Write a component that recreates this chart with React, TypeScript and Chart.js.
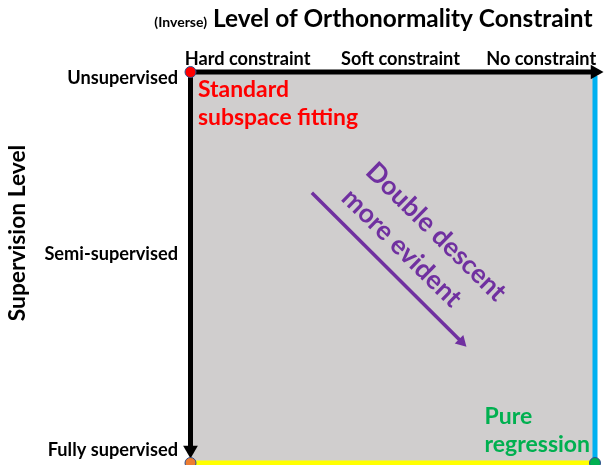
import React, { useEffect, useRef } from "react";
import { Chart, registerables } from "chart.js";
Chart.register(...registerables);

// ---- data ----
const xTitleSmall = "(Inverse)";
const xTitleMain = "Level of Orthonormality Constraint";
const yTitle = "Supervision Level";
const xTickLabels = ["Hard constraint", "Soft constraint", "No constraint"];
const xTickValues = [0.141, 0.519, 0.867];
const yTickLabels = ["Unsupervised", "Semi-supervised", "Fully supervised"];
const yTickValues = [0.031, 0.48, 0.982];

const topAxisLine = [{ x: 0, y: 0 }, { x: 1, y: 0 }];
const leftAxisLine = [{ x: 0, y: 0 }, { x: 0, y: 0.967 }];
const rightEdge = [{ x: 1, y: 0.01 }, { x: 1, y: 1 }];
const bottomEdge = [{ x: 0, y: 1 }, { x: 1, y: 1 }];
const trendLine = [{ x: 0.3, y: 0.309 }, { x: 0.67, y: 0.69 }];
const cornerPoints = [{ x: 0, y: 0 }, { x: 0, y: 1 }, { x: 1, y: 1 }];
const cornerColors = ["#FF0000", "#ED7D31", "#00B050"];

const redLabel = ["Standard", "subspace fitting"];
const redLabelPos = [{ x: 0.0185, y: 0.065 }, { x: 0.0185, y: 0.1355 }];
const greenLabel = ["Pure", "regression"];
const greenLabelPos = [{ x: 0.727, y: 0.899 }, { x: 0.727, y: 0.971 }];
const purpleLabel = ["Double descent", "more evident"];
const purpleLabelPos = [{ x: 0.607, y: 0.409 }, { x: 0.522, y: 0.45 }];
const purpleAngle = 44.5;

const FONT = "Lato";

function drawText(ctx, str, x, y, font, color, align, baseline, rot = 0) {
  ctx.save();
  ctx.font = font;
  ctx.fillStyle = color;
  ctx.textAlign = align;
  ctx.textBaseline = baseline;
  ctx.translate(x, y);
  if (rot) ctx.rotate((rot * Math.PI) / 180);
  ctx.fillText(str, 0, 0);
  ctx.restore();
}

const overlayPlugin = {
  id: "overlay",
  beforeDatasetsDraw(chart) {
    const { ctx, chartArea: a } = chart;
    ctx.save();
    ctx.fillStyle = "#D0CECE";
    ctx.fillRect(a.left, a.top, a.right - a.left, a.bottom - a.top);
    ctx.restore();
  },
  afterDraw(chart) {
    const { ctx } = chart;
    const xs = chart.scales.x;
    const ys = chart.scales.y;
    // title
    drawText(ctx, xTitleSmall, 207, 27, `bold 14px ${FONT}`, "#000", "right", "alphabetic");
    drawText(ctx, xTitleMain, 213, 27, `bold 24.4px ${FONT}`, "#000", "left", "alphabetic");
    // y title
    drawText(ctx, yTitle, 18, 233, `bold 22.8px ${FONT}`, "#000", "center", "middle", -90);
    // top ticks
    xTickLabels.forEach((t, i) => {
      drawText(ctx, t, xs.getPixelForValue(xTickValues[i]), 65, `bold 18.2px ${FONT}`, "#000", "center", "alphabetic");
    });
    // left ticks
    yTickLabels.forEach((t, i) => {
      drawText(ctx, t, 178, ys.getPixelForValue(yTickValues[i]), `bold 18.2px ${FONT}`, "#000", "right", "alphabetic");
    });
    redLabel.forEach((t, i) => {
      drawText(ctx, t, xs.getPixelForValue(redLabelPos[i].x), ys.getPixelForValue(redLabelPos[i].y), `bold 22.9px ${FONT}`, "#FF0000", "left", "alphabetic");
    });
    greenLabel.forEach((t, i) => {
      drawText(ctx, t, xs.getPixelForValue(greenLabelPos[i].x), ys.getPixelForValue(greenLabelPos[i].y), `bold 23px ${FONT}`, "#00B050", "left", "alphabetic");
    });
    purpleLabel.forEach((t, i) => {
      drawText(ctx, t, xs.getPixelForValue(purpleLabelPos[i].x), ys.getPixelForValue(purpleLabelPos[i].y), `bold 26.5px ${FONT}`, "#7030A0", "center", "middle", purpleAngle);
    });
  },
};

function lineDs(data, color, width, arrowRot, arrowR, order) {
  return {
    data,
    showLine: true,
    borderColor: color,
    borderWidth: width,
    backgroundColor: color,
    pointRadius: arrowRot === null ? 0 : [0, arrowR],
    pointStyle: "triangle",
    rotation: arrowRot === null ? 0 : arrowRot,
    pointBackgroundColor: color,
    pointBorderWidth: 0,
    clip: false,
    order,
  };
}

export default function App() {
  const ref = useRef(null);
  useEffect(() => {
    const chart = new Chart(ref.current, {
      type: "scatter",
      data: {
        datasets: [
          {
            data: cornerPoints,
            pointRadius: 5.5,
            pointBackgroundColor: cornerColors,
            pointBorderColor: "#2F528F",
            pointBorderWidth: 1,
            clip: false,
            order: 0,
          },
          lineDs(topAxisLine, "#000000", 5, 90, 8.5, 1),
          lineDs(leftAxisLine, "#000000", 5, 180, 8.5, 1),
          lineDs(trendLine, "#7030A0", 3.5, 135, 7, 2),
          lineDs(rightEdge, "#00B0F0", 5, null, 0, 3),
          lineDs(bottomEdge, "#FFFF00", 5, null, 0, 3),
        ],
      },
      options: {
        animation: false,
        responsive: true,
        maintainAspectRatio: false,
        events: [],
        layout: { autoPadding: false, padding: { left: 190.5, top: 72, right: 11, bottom: 2 } },
        plugins: { legend: { display: false }, tooltip: { enabled: false } },
        scales: {
          x: { type: "linear", min: 0, max: 1, display: false },
          y: { type: "linear", min: 0, max: 1, reverse: true, display: false },
        },
      },
      plugins: [overlayPlugin],
    });
    return () => chart.destroy();
  }, []);
  return (
    <div style={{ position: "absolute", left: 0, top: 0, width: 606, height: 465, background: "#fff" }}>
      <canvas ref={ref} />
    </div>
  );
}
